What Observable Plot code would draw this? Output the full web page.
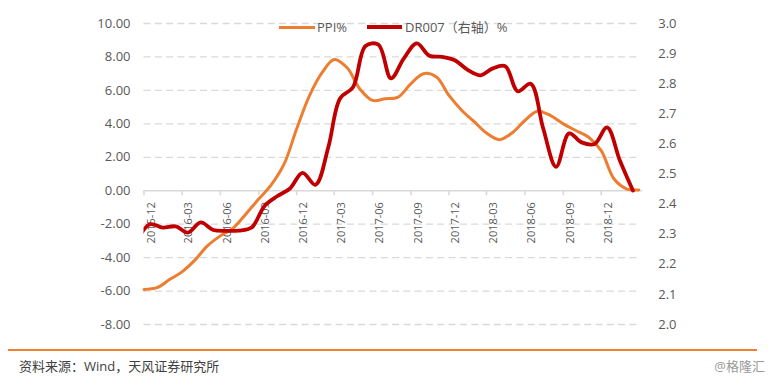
<!DOCTYPE html>
<html>
<head>
<meta charset="utf-8">
<script src="https://cdn.jsdelivr.net/npm/d3@7"></script>
<script src="https://cdn.jsdelivr.net/npm/@observablehq/plot@0.6"></script>
<style>
  body { margin: 0; background: #ffffff; }
  #wrap { position: relative; width: 773px; height: 380px; overflow: hidden;
          font-family: "Open Sans", "Noto Sans CJK SC", sans-serif; color: #595959; }
  #chart { position: absolute; left: 0; top: 0; }
  .abs { position: absolute; white-space: nowrap; }
  .legtxt { font-size: 13px; line-height: 18px; top: 18.3px; color: #595959; }
  .swatch { height: 3px; top: 25.8px; }
  #footline { left: 8px; top: 349px; width: 749px; height: 0; border-top: 2px solid #F08030; }
  #source { left: 19px; top: 357px; font-size: 13px; line-height: 18px; color: #404040; }
  #brand { right: 8px; top: 357px; font-size: 13px; line-height: 18px; color: #9a9a9a; }
</style>
</head>
<body>
<div id="wrap">
  <div id="chart"></div>
  <div class="abs swatch" style="left:279px;width:36px;background:#ED7D31;"></div>
  <div class="abs legtxt" style="left:317px;">PPI%</div>
  <div class="abs swatch" style="left:367px;width:35px;height:3.8px;top:25.4px;background:#C00000;"></div>
  <div class="abs legtxt" style="left:405px;">DR007（右轴）%</div>
  <div class="abs" id="footline"></div>
  <div class="abs" id="source">资料来源：Wind，天风证券研究所</div>
  <div class="abs" id="brand">@格隆汇</div>
</div>
<script>
// Months of the two series
const months = ["2015-11","2015-12","2016-01","2016-02","2016-03","2016-04","2016-05","2016-06",
  "2016-07","2016-08","2016-09","2016-10","2016-11","2016-12","2017-01","2017-02","2017-03",
  "2017-04","2017-05","2017-06","2017-07","2017-08","2017-09","2017-10","2017-11","2017-12",
  "2018-01","2018-02","2018-03","2018-04","2018-05","2018-06","2018-07","2018-08","2018-09",
  "2018-10","2018-11","2018-12","2019-01","2019-02"];

// PPI year-on-year, % (left axis)
const ppi = [-5.9,-5.8,-5.3,-4.85,-4.15,-3.3,-2.7,-2.25,-1.4,-0.5,0.35,1.6,3.7,5.7,7.1,7.85,
  7.35,6.1,5.4,5.5,5.6,6.4,7.0,6.8,5.7,4.8,4.1,3.45,3.05,3.45,4.2,4.75,4.5,4.0,3.6,3.2,2.4,
  0.7,0.1,0.05];

// DR007, % (right axis)
const dr007 = [2.28,2.333,2.322,2.326,2.305,2.339,2.314,2.311,2.312,2.322,2.394,2.426,2.452,
  2.504,2.464,2.59,2.751,2.788,2.925,2.93,2.818,2.884,2.934,2.893,2.889,2.878,2.846,2.828,
  2.85,2.858,2.775,2.80,2.651,2.524,2.635,2.605,2.60,2.655,2.544,2.445];

// Axes
const xTickLabels = ["2015-12","2016-03","2016-06","2016-09","2016-12","2017-03","2017-06",
  "2017-09","2017-12","2018-03","2018-06","2018-09","2018-12"];
const leftTicks = [10, 8, 6, 4, 2, 0, -2, -4, -6, -8];
const gridTicks = [10, 8, 6, 4, 2, -2, -4, -6, -8];
const rightTicks = [3.0, 2.9, 2.8, 2.7, 2.6, 2.5, 2.4, 2.3, 2.2, 2.1, 2.0];
const leftDomain = [-8, 10];
const rightDomain = [2.0, 3.0];
const xDomain = ["2015-12-01", "2019-03-10"];
const gridEnd = "2019-03-01";

const parse = d3.utcParse("%Y-%m");
const parseDay = d3.utcParse("%Y-%m-%d");
// right-axis value -> left-axis value
const toLeft = r => leftDomain[0] + (r - rightDomain[0]) / (rightDomain[1] - rightDomain[0]) * (leftDomain[1] - leftDomain[0]);
const fromLeft = l => rightDomain[0] + (l - leftDomain[0]) / (leftDomain[1] - leftDomain[0]) * (rightDomain[1] - rightDomain[0]);

const ppiRows = months.map((m, i) => ({date: d3.utcMonth.offset(parse(m), 1), v: ppi[i]}));
const drRows = months.map((m, i) => ({date: d3.utcDay.offset(parse(m), 14), v: dr007[i]}));
const tickDates = xTickLabels.map(parse);
const gStart = parseDay(xDomain[0]), gEnd = parseDay(gridEnd);

const font = '"Open Sans", "Noto Sans CJK SC", sans-serif';

const chart = Plot.plot({
  width: 773,
  height: 345,
  marginLeft: 143.5,
  marginRight: 131,
  marginTop: 23,
  marginBottom: 21,
  style: {background: "transparent", fontFamily: font, color: "#595959", overflow: "visible"},
  x: {type: "utc", domain: xDomain.map(parseDay), axis: null},
  y: {domain: leftDomain, axis: null},
  marks: [
    Plot.ruleY(gridTicks, {x1: () => gStart, x2: () => gEnd, stroke: "#d9d9d9", strokeWidth: 1.3, strokeDasharray: "7,4.3"}),
    Plot.ruleY([0], {stroke: "#d9d9d9", strokeWidth: 1.6}),
    Plot.ruleX(tickDates, {x: d => d, y1: 0, y2: -0.3, stroke: "#d9d9d9", strokeWidth: 1.6}),
    Plot.axisY({anchor: "left", ticks: leftTicks, tickSize: 0, tickPadding: 13.5, label: null,
      tickFormat: d => d.toFixed(2), fontSize: 13, fill: "#595959"}),
    Plot.axisY({anchor: "right", ticks: rightTicks.map(toLeft), tickSize: 0, tickPadding: 15.7, label: null,
      tickFormat: d => fromLeft(d).toFixed(1), fontSize: 13, fill: "#595959"}),
    Plot.text(xTickLabels, {x: d => parse(d), y: () => 0, text: d => d, rotate: -90, textAnchor: "end",
      dx: 7, dy: 11.4, fontSize: 11, fill: "#595959"}),
    Plot.line(ppiRows, {x: "date", y: "v", stroke: "#ED7D31", strokeWidth: 3, curve: "catmull-rom"}),
    Plot.line(drRows, {x: "date", y: d => toLeft(d.v), stroke: "#C00000", strokeWidth: 3.8, curve: "catmull-rom", clip: true})
  ]
});
document.getElementById("chart").appendChild(chart);
</script>
</body>
</html>
